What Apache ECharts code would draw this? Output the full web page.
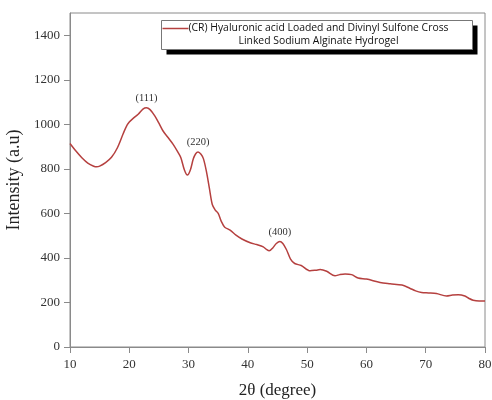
<html>
<head>
    <meta charset="utf-8">
    <title></title>
    <script src="https://cdn.jsdelivr.net/npm/echarts@6/dist/echarts.min.js" type="text/javascript"></script>
</head>
<body style="margin:0;background:#fff;">
    <div id="xrdDiv" style="width:492px;height:400px;"></div>
</body>
<script type="text/javascript" charset="utf-8">
        // 2theta positions and intensities
        var twoTheta = [10, 11, 12, 13, 14, 14.5, 15, 16, 17, 18, 19, 19.5, 20, 20.7, 21.5, 22.3, 22.9, 23.5, 24.3, 25,
            25.7, 26.5, 27.4, 28.2, 28.7, 29.3, 29.8, 30.3, 30.8, 31.2, 31.6, 32.1, 32.5, 33, 33.5, 34, 34.5, 35, 35.5, 36.1,
            37, 38, 39, 40.4, 41.5, 42.6, 43.2, 43.6, 44.2, 44.8, 45.4, 45.9, 46.5, 47.2, 47.9, 49, 50.5, 51.5, 52.2, 53.3,
            54.7, 55.5, 56.4, 57.5, 58.6, 60, 62.3, 64, 66, 67.3, 68.3, 69.3, 70.5, 71.8, 73.5, 74.5, 75.5, 76.6, 77.3, 78, 79, 80];
        var intensity = [914, 880, 850, 826, 812, 809, 812, 828, 852, 895, 960, 990, 1010, 1028, 1045, 1068, 1074, 1066, 1038, 1005,
            970, 942, 910, 875, 850, 795, 772, 795, 845, 868, 876, 866, 846, 790, 715, 640, 615, 600, 565, 538,
            525, 502, 485, 468, 460, 450, 437, 432, 445, 465, 474, 465, 438, 395, 375, 366, 342, 345, 348, 340,
            320, 325, 328, 325, 310, 305, 290, 284, 278, 264, 252, 245, 243, 240, 229, 233, 235, 229, 218, 210, 207, 207];
        var peakNames = ['(111)', '(220)', '(400)'];
        var peakPos = [22.9, 31.6, 45.4];
        var peakVal = [1074, 876, 474];
        var yTicks = [0, 200, 400, 600, 800, 1000, 1200, 1400];
        var seriesName = '(CR) Hyaluronic acid Loaded and Divinyl Sulfone Cross';
        var seriesName2 = 'Linked Sodium Alginate Hydrogel';

        var serif = '"Liberation Serif", "DejaVu Serif", serif';
        var lineColor = '#b5403f';

        var points = [];
        for (var i = 0; i < twoTheta.length; i++) {
            points.push([twoTheta[i], intensity[i]]);
        }
        var peaks = [];
        for (var j = 0; j < peakNames.length; j++) {
            peaks.push({name: peakNames[j], coord: [peakPos[j], peakVal[j]]});
        }

        var chart = echarts.init(document.getElementById('xrdDiv'));
        chart.setOption({
            animation: false,
            grid: {left: 70, right: 7, top: 13, bottom: 53, show: true, borderColor: '#8a8a8a', borderWidth: 1,
                outerBoundsMode: 'none', containLabel: false},
            xAxis: {
                type: 'value', min: 10, max: 80, interval: 10,
                name: '2θ (degree)', nameLocation: 'middle', nameGap: 35,
                nameTextStyle: {fontFamily: serif, fontSize: 17, color: '#222'},
                axisLine: {lineStyle: {color: '#8a8a8a', width: 1}},
                axisTick: {show: true, length: 6, lineStyle: {color: '#8a8a8a'}},
                axisLabel: {fontFamily: serif, fontSize: 13, color: '#333', margin: 11},
                splitLine: {show: false}
            },
            yAxis: {
                type: 'value', min: 0, max: 1500,
                name: 'Intensity (a.u)', nameLocation: 'middle', nameGap: 47,
                nameTextStyle: {fontFamily: serif, fontSize: 18, color: '#222'},
                axisLine: {show: true, lineStyle: {color: '#8a8a8a', width: 1}},
                axisTick: {show: true, length: 6, customValues: yTicks, lineStyle: {color: '#8a8a8a'}},
                axisLabel: {fontFamily: serif, fontSize: 13, color: '#333', margin: 10, customValues: yTicks,
                    formatter: function (v) { return String(v); }},
                splitLine: {show: false}
            },
            graphic: [{
                type: 'group', left: 160, top: 20,
                children: [
                    {type: 'rect', shape: {x: 5, y: 5, width: 311, height: 29}, style: {fill: '#000'}},
                    {type: 'rect', shape: {x: 0, y: 0, width: 311, height: 29}, style: {fill: '#fff', stroke: '#777', lineWidth: 1}},
                    {type: 'line', shape: {x1: 1, y1: 8, x2: 27, y2: 8}, style: {stroke: lineColor, lineWidth: 1.5}},
                    {type: 'text', x: 157, y: 1, style: {text: seriesName + '\n' + seriesName2, align: 'center',
                        fontFamily: '"Open Sans", sans-serif', fontSize: 10.4, lineHeight: 13, fill: '#111'}}
                ]
            }],
            series: [{
                name: seriesName, type: 'line', data: points,
                smooth: 0.3, showSymbol: false,
                lineStyle: {color: lineColor, width: 1.5},
                markPoint: {
                    symbol: 'circle', symbolSize: 0, data: peaks,
                    label: {show: true, position: 'top', distance: 4, formatter: '{b}',
                        fontFamily: serif, fontSize: 10.5, color: '#333'}
                }
            }]
        });
</script>
</html>
